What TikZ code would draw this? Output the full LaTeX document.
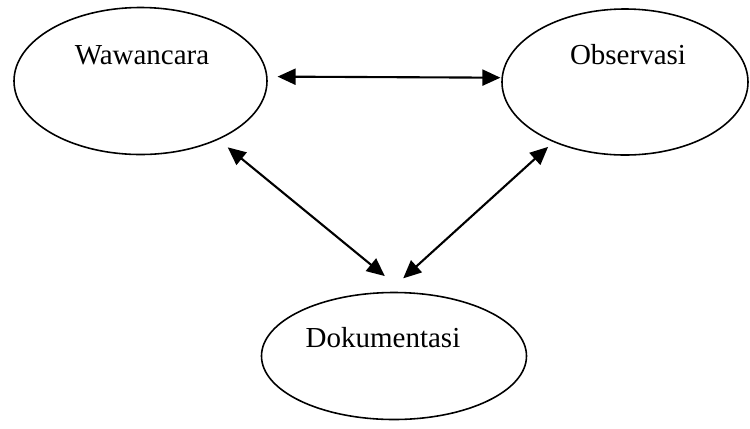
\documentclass[tikz,border=0pt]{standalone}
\usepackage{fontspec}
\setmainfont{Liberation Serif}
\usetikzlibrary{arrows.meta,shapes.geometric}

\begin{document}
\begin{tikzpicture}[
  metode/.style={draw, ellipse, line width=0.9pt, inner sep=0pt},
  judul/.style={font=\fontsize{16.5}{20}\selectfont},
  duaarah/.style={line width=1.2pt,
    {Triangle[length=3.6mm,width=3.2mm]}-{Triangle[length=3.6mm,width=3.2mm]}}
]
\useasboundingbox (0,0) rectangle (15,-8.56);

% Wawancara
\node[metode, minimum width=5.06cm, minimum height=2.94cm] (waw) at (2.81,-1.62) {};
\node[judul] (twaw) at (2.84,-1.10) {Wawancara};

% Observasi
\node[metode, minimum width=4.92cm, minimum height=2.92cm] (obs) at (12.5,-1.64) {};
\node[judul] (tobs) at (12.56,-1.10) {Observasi};

% Dokumentasi
\node[metode, minimum width=5.3cm, minimum height=2.54cm] (dok) at (7.88,-7.12) {};
\node[judul] (tdok) at (7.66,-6.75) {Dokumentasi};

% panah dua arah
\draw[duaarah, shorten <=0.2cm, shorten >=0.02cm] (waw.2) -- (obs.178);
\draw[duaarah, shorten <=0.24cm, shorten >=0.5cm] (waw.-37) -- (dok.81);
\draw[duaarah, shorten <=0.14cm, shorten >=0.4cm] (obs.220) -- (dok.95);

\end{tikzpicture}
\end{document}
